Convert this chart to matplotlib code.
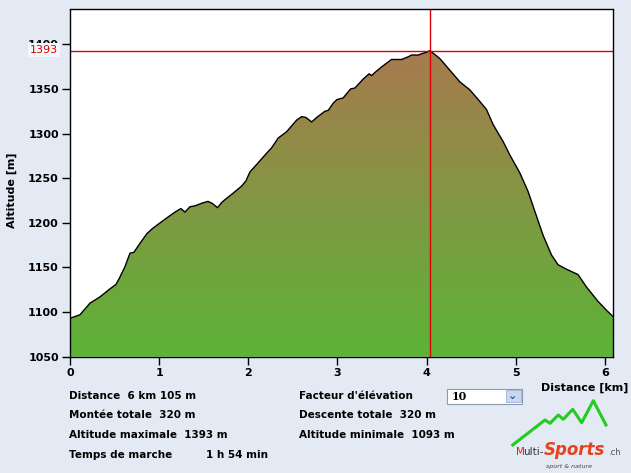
import numpy as np
import matplotlib
matplotlib.use("Agg")
import matplotlib.pyplot as plt
from matplotlib.colors import LinearSegmentedColormap
from matplotlib.patches import Rectangle

# ---- data ----
distance_km = [0.000, 0.056, 0.112, 0.224, 0.336, 0.448, 0.516, 0.549, 0.617, 0.673,
               0.717, 0.785, 0.863, 0.930, 1.065, 1.177, 1.244, 1.289, 1.345, 1.401,
               1.480, 1.547, 1.592, 1.654, 1.704, 1.738, 1.827, 1.923, 1.973, 2.018,
               2.108, 2.205, 2.261, 2.335, 2.429, 2.541, 2.598, 2.646, 2.710, 2.766,
               2.859, 2.896, 2.952, 2.993, 3.064, 3.147, 3.195, 3.288, 3.355, 3.382,
               3.438, 3.512, 3.606, 3.719, 3.793, 3.831, 3.905, 3.961, 3.999, 4.036,
               4.148, 4.260, 4.372, 4.484, 4.596, 4.671, 4.746, 4.858, 4.933, 5.045,
               5.138, 5.213, 5.306, 5.400, 5.474, 5.568, 5.698, 5.793, 5.922, 6.017,
               6.090]
altitude_m = [1093, 1095, 1097, 1110, 1117, 1126, 1131, 1137, 1151, 1166,
              1167, 1177, 1188, 1194, 1204, 1212, 1216, 1212, 1218, 1219,
              1222, 1224, 1222, 1217, 1223, 1226, 1233, 1241, 1247, 1257,
              1267, 1278, 1284, 1295, 1302, 1315, 1319, 1318, 1313, 1318,
              1325, 1326, 1334, 1338, 1340, 1350, 1351, 1361, 1367, 1365,
              1370, 1376, 1383, 1383, 1386, 1388, 1388, 1390, 1391, 1393,
              1384, 1371, 1358, 1349, 1336, 1327, 1310, 1291, 1276, 1256,
              1235, 1213, 1186, 1164, 1153, 1148, 1142, 1128, 1112, 1102,
              1095]
x_ticks = [0, 1, 2, 3, 4, 5, 6]
y_ticks = [1050, 1100, 1150, 1200, 1250, 1300, 1350, 1400]
marker_distance = 4.036
marker_altitude = 1393

info_left = ["Distance  6 km 105 m", "Montée totale  320 m",
             "Altitude maximale  1393 m", "Temps de marche"]
info_right = ["Facteur d'élévation", "Descente totale  320 m",
              "Altitude minimale  1093 m"]
walk_time = "1 h 54 min"
elev_factor = "10"

# ---- figure ----
W, H = 631, 473
bg = "#E3EAF3"
fig = plt.figure(figsize=(W / 100, H / 100), dpi=100, facecolor=bg)

def fx(px):
    return px / W

def fy(py):
    return 1 - py / H

ax = fig.add_axes([fx(70), fy(356.7), (613 - 70) / W, (356.7 - 9.5) / H])
ax.set_facecolor("white")
xmax = distance_km[-1]
ax.set_xlim(0, xmax)
ax.set_ylim(1050, 1439)

# gradient fill clipped to the profile
cmap = LinearSegmentedColormap.from_list("prof", ["#5BB437", "#A87A4E"])
grad = np.linspace(0, 1, 256).reshape(-1, 1)
im = ax.imshow(grad, cmap=cmap, aspect="auto", origin="lower",
               extent=[0, xmax, 1050, marker_altitude], zorder=1)
poly = ax.fill_between(distance_km, altitude_m, 1050, facecolor="none",
                       edgecolor="none", zorder=1)
clip = poly.get_paths()[0]
im.set_clip_path(clip, transform=ax.transData)
ax.plot(distance_km, altitude_m, color="black", lw=1.0, zorder=3)

# marker lines
ax.axhline(marker_altitude, color="#DD0000", lw=1.0, zorder=4)
ax.axvline(marker_distance, color="#DD0000", lw=1.0, zorder=4)

for s in ax.spines.values():
    s.set_color("black")
    s.set_linewidth(1.0)
    s.set_zorder(5)

ax.set_xticks(x_ticks)
ax.set_yticks(y_ticks)
ax.tick_params(direction="out", length=6, width=1, pad=2, labelsize=8)
for lab in ax.get_xticklabels() + ax.get_yticklabels():
    lab.set_fontweight("bold")

# red 1393 label over the y axis (overlaps the 1400 label as in the original)
fig.text(fx(58), fy(50), str(marker_altitude), color="#DD0000", fontsize=8,
         ha="right", va="center",
         bbox=dict(boxstyle="square,pad=0.15", fc="#F3F6FA", ec="none"))

fig.text(fx(12), fy(190), "Altitude [m]", rotation=90, fontsize=8,
         fontweight="bold", ha="center", va="center")
fig.text(fx(585), fy(387.5), "Distance [km]", fontsize=8,
         fontweight="bold", ha="center", va="center")

# info texts
ys = [396, 415, 435, 455]
for t, y in zip(info_left, ys):
    fig.text(fx(69), fy(y), t, fontsize=7.5, fontweight="bold",
             ha="left", va="center")
fig.text(fx(206), fy(455), walk_time, fontsize=7.5, fontweight="bold",
         ha="left", va="center")
for t, y in zip(info_right, ys):
    fig.text(fx(299), fy(y), t, fontsize=7.5, fontweight="bold",
             ha="left", va="center")

# dropdown
fig.patches.append(Rectangle((fx(446.5), fy(403.5)), (522 - 446.5) / W,
                             (403.5 - 388.5) / H, transform=fig.transFigure,
                             fc="white", ec="#8A9AB0", lw=0.8))
fig.patches.append(Rectangle((fx(505.5), fy(402)), (520.5 - 505.5) / W,
                             (402 - 390) / H, transform=fig.transFigure,
                             fc="#C9D8EE", ec="#9DB2D3", lw=0.6))
fig.text(fx(513), fy(396), "⌄", fontsize=8, color="#2F4F8F",
         ha="center", va="center", fontweight="bold")
fig.text(fx(451.5), fy(396), elev_factor, fontsize=8, fontweight="bold",
         family="DejaVu Serif", ha="left", va="center")

# logo
zx = [512.7, 545, 550, 558.3, 563.3, 572.7, 581.7, 593.3, 606]
zy = [445, 420, 423.3, 415, 419.3, 409.3, 422.7, 400.7, 425]
fig.add_artist(plt.Line2D([fx(v) for v in zx], [fy(v) for v in zy],
                          transform=fig.transFigure, color="#22CC22", lw=2.2))
fig.text(fx(516), fy(455), "M", color="#E02020", fontsize=7.5, ha="left",
         va="baseline")
fig.text(fx(523.5), fy(455), "ulti-", color="#333333", fontsize=7.5, ha="left",
         va="baseline")
fig.text(fx(544), fy(455), "Sports", color="#E8401A", fontsize=12,
         fontweight="bold", style="italic", ha="left", va="baseline")
fig.text(fx(608), fy(455), ".ch", color="#555555", fontsize=6, ha="left",
         va="baseline")
fig.text(fx(569), fy(466), "sport & nature", color="#444444", fontsize=4.5,
         ha="center", va="center", style="italic")

fig.savefig("out.png", dpi=100, facecolor=bg)
